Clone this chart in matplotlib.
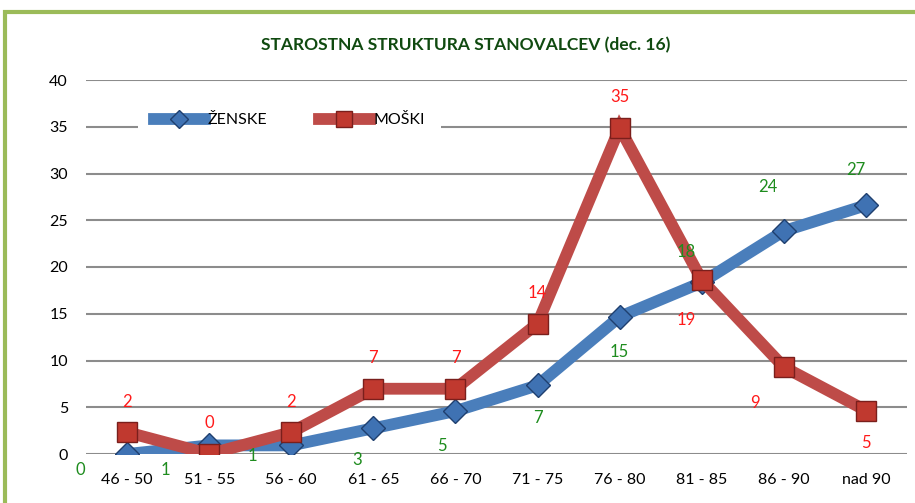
import numpy as np
import matplotlib
matplotlib.use('Agg')
import matplotlib.pyplot as plt
from matplotlib.patches import Rectangle

plt.rcParams['font.family'] = ['Lato', 'DejaVu Sans']

# age groups and shares (%) per group
categories = ['46 - 50', '51 - 55', '56 - 60', '61 - 65', '66 - 70',
              '71 - 75', '76 - 80', '81 - 85', '86 - 90', 'nad 90']
zenske = [0.0, 0.92, 0.92, 2.75, 4.59, 7.34, 14.68, 18.35, 23.85, 26.6]
moski = [2.33, 0.0, 2.33, 6.98, 6.98, 13.95, 34.88, 18.6, 9.3, 4.65]
y_ticks = [0, 5, 10, 15, 20, 25, 30, 35, 40]

# label offsets (pixels) as they were placed in the original chart
zen_offsets = [(-47, -16), (-44, -25), (-39, -11), (-16, -32), (-14, -35),
               (0, -33), (0, -35), (-16, 30), (-16, 44), (-10, 35)]
mos_offsets = [(0, 30), (0, 31), (0, 30), (0, 31), (0, 31),
               (0, 31), (0, 31), (-16, -40), (-29, -36), (0, -32)]

BLUE = '#4A7EBB'
RED = '#BE4B48'

fig = plt.figure(figsize=(9.15, 5.03), dpi=100)
ax = fig.add_axes([86 / 915, 1 - 454 / 503, (907 - 86) / 915, (454 - 80) / 503])

x = np.arange(len(categories))
ax.plot(x, zenske, color=BLUE, lw=8.5, marker='D', ms=12,
        mfc='#3F72B3', mec='#1F3F6F', mew=1, label='ŽENSKE', zorder=3,
        solid_joinstyle='miter')
ax.plot(x, moski, color=RED, lw=8.5, marker='s', ms=14,
        mfc='#C0392F', mec='#7A1F1C', mew=1, label='MOŠKI', zorder=4,
        solid_joinstyle='miter')

for i, v in enumerate(zenske):
    ax.annotate(f'{v:.0f}', (x[i], v), xytext=zen_offsets[i],
                textcoords='offset pixels', ha='center', va='center',
                color='#1E8C1E', fontsize=12, zorder=6)
for i, v in enumerate(moski):
    ax.annotate(f'{v:.0f}', (x[i], v), xytext=mos_offsets[i],
                textcoords='offset pixels', ha='center', va='center',
                color='#FF1A1A', fontsize=12, zorder=6)

ax.set_xlim(-0.5, len(categories) - 0.5)
ax.set_ylim(0, 40)
ax.set_yticks(y_ticks)
ax.set_xticks(x)
ax.set_xticklabels(categories)
ax.tick_params(axis='both', length=0, labelsize=11.5, colors='black')
ax.tick_params(axis='x', pad=14)
ax.tick_params(axis='y', pad=13)
ax.grid(axis='y', color='#8C8C8C', lw=1.5, zorder=0)
ax.set_axisbelow(True)
for s in ax.spines.values():
    s.set_visible(False)

leg = ax.legend(loc='center left', bbox_to_anchor=(0.063, 0.893), ncol=2,
                frameon=True, fontsize=11.5, handlelength=3.2,
                columnspacing=3.2, borderpad=1.0, handletextpad=0.2,
                markerscale=0.8, borderaxespad=0)
leg.get_frame().set_facecolor('white')
leg.get_frame().set_edgecolor('none')
leg.get_frame().set_alpha(1)
leg.set_zorder(5)

fig.text(466 / 915, 1 - 45 / 503, 'STAROSTNA STRUKTURA STANOVALCEV (dec. 16)',
         ha='center', va='center', fontsize=12.5, fontweight='bold',
         color='#104A10')

fig.patches.append(Rectangle((5 / 915, -0.1), 1.2, 1 - 12 / 503 + 0.1,
                             transform=fig.transFigure, fill=False,
                             edgecolor='#9BBB59', lw=3))

fig.savefig('out.png', dpi=100)
